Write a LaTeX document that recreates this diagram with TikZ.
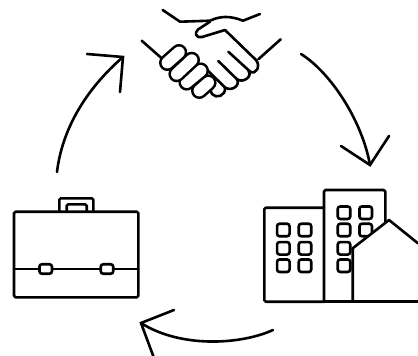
\documentclass[tikz,border=0pt]{standalone}
\tikzset{
    icon/.style={line width=2.6pt,line cap=round,line join=round,rounded corners=1.5pt},
    hand/.style={line width=2.6pt,line cap=round,line join=round},
    finger/.style={line width=2.6pt,line cap=round,double=white,double distance=11.4pt},
    pane/.style={draw,line width=2.6pt,fill=white,rectangle,rounded corners=2.5pt,minimum size=12.5pt,inner sep=0pt},
    clasp/.style={draw,line width=2.6pt,fill=white,rectangle,rounded corners=2.5pt,minimum width=12.5pt,minimum height=9.5pt,inner sep=0pt},
    cyclearrow/.style={line width=2.6pt,line cap=round},
    cyclehead/.style={line width=2.6pt,line cap=round,line join=miter}
}
\begin{document}
\begin{tikzpicture}[x=1pt,y=-1pt]
    \useasboundingbox (0,0) rectangle (418,356);

    %handshake
    \draw[hand] (162.7,10)--(180,21.7)--(210,20.7) .. controls (220,16) and (230,15.5) .. (243,20.7)--(260,14);
    \draw[hand] (210,21.7)--(198,29.5) .. controls (194,33) and (196,38.5) .. (202,37)--(225,30)--(256,60) .. controls (261,66) and (256,75.5) .. (250,71.5)--(228.3,51.7);
    \draw[hand] (218.3,61)--(236.7,79) .. controls (243,84) and (253,76) .. (248.5,71);
    \draw[hand] (208.3,71)--(225,87.5) .. controls (232,92) and (241,85) .. (236.7,79);
    \draw[hand] (225,87.5) .. controls (226,96) and (216,99) .. (212,94)--(209,87);
    \draw[hand] (141.7,40.7)--(161.7,58.3);
    \draw[hand] (280.7,39.3)--(258.3,59.3);
    \foreach \xa/\ya/\xb/\yb in {199.3/90.7/208.3/82.7,186.7/82.3/200.7/70.7,176.7/74/191.7/60,167.3/62.7/179/52.3}
        \draw[finger] (\xa,\ya)--(\xb,\yb);

    %buildings
    \draw[icon] (324,301.7)--(264.3,301.7)--(264.3,207.7)--(324,207.7);
    \draw[icon] (324,301.7)--(324,190)--(385.3,190)--(385.3,240);
    \foreach \px in {283.3,305}
        \foreach \py in {230,248.3,265.7}
            \node[pane] (pane-\px-\py) at (\px,\py) {};
    \foreach \px in {344,365.7}
        \foreach \py in {212.7,230}
            \node[pane] (pane-\px-\py) at (\px,\py) {};
    \foreach \py in {248.3,265.7}
        \node[pane] (pane-344-\py) at (344,\py) {};
    \fill[white] (352.7,302)--(352.7,248.3)--(389,220)--(418,243.3)--(418,302)--cycle;
    \draw[hand] (352.7,301.7)--(352.7,248.3)--(389,220)--(418,243.3);
    \draw[hand] (324,301.7)--(418,301.7);

    %briefcase
    \draw[icon] (59.3,211.7)--(59.3,198.3)--(93.3,198.3)--(93.3,211.7);
    \draw[icon] (66.7,211.7)--(66.7,204.3)--(86.7,204.3)--(86.7,211.7);
    \draw[icon] (14,211.7) rectangle (138.3,297.3);
    \draw[hand] (14,269)--(138.3,269);
    \node[clasp] (claspleft) at (45.7,269) {};
    \node[clasp] (claspright) at (107,269) {};

    %arrows
    \coordinate (caseend) at (57,172);
    \coordinate (handstip) at (123,57);
    \coordinate (handsend) at (301,54);
    \coordinate (towntip) at (370,165);
    \coordinate (townend) at (273,330);
    \coordinate (casetip) at (141,323);
    \draw[cyclearrow] (caseend) .. controls (62,130) and (85,90) .. (handstip);
    \draw[cyclehead] (87,54)--(handstip)--(120,92);
    \draw[cyclearrow] (handsend) .. controls (330,72) and (362,120) .. (towntip);
    \draw[cyclehead] (341,146)--(towntip)--(389,136);
    \draw[cyclearrow] (townend) .. controls (240,345) and (180,348) .. (casetip);
    \draw[cyclehead] (174,310)--(casetip)--(154,358);
\end{tikzpicture}
\end{document}
